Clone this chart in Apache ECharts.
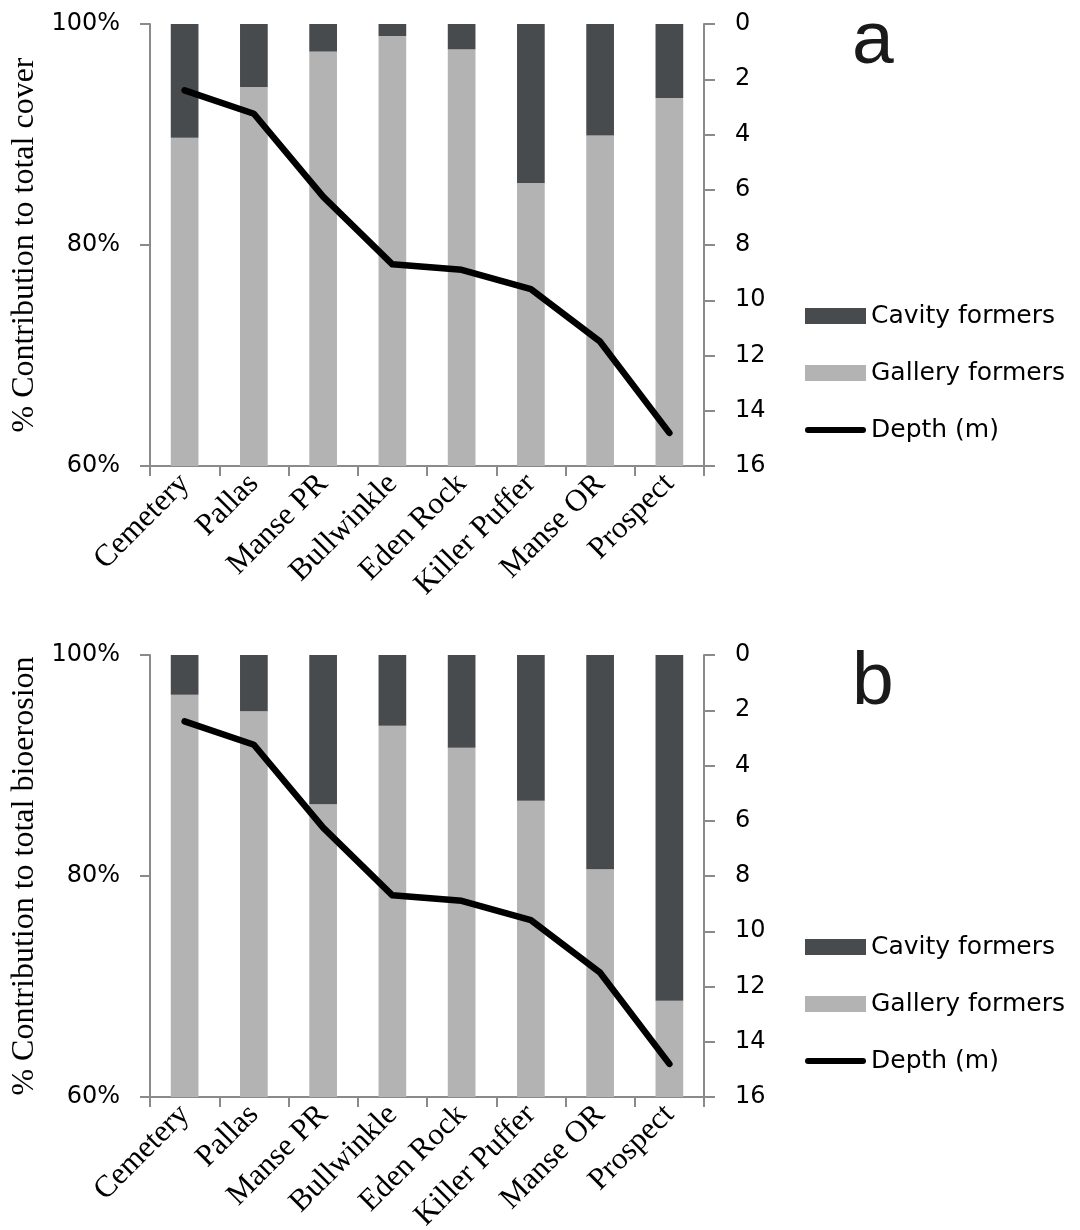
<!DOCTYPE html>
<html>
<head>
<meta charset="utf-8">
<script src="https://cdn.jsdelivr.net/npm/echarts@6/dist/echarts.min.js"></script>
<style>
  html, body { margin: 0; padding: 0; background: #fff; }
  #chart { width: 1080px; height: 1230px; }
</style>
</head>
<body>
<div id="chart"></div>
<script>
// Reef sites, ordered by depth
const sites = ['Cemetery', 'Pallas', 'Manse PR', 'Bullwinkle', 'Eden Rock', 'Killer Puffer', 'Manse OR', 'Prospect'];

// Site depth (m)
const depth = [2.4, 3.25, 6.25, 8.7, 8.9, 9.6, 11.5, 14.8];

// (a) % contribution to total cover
const galleryCover = [89.7, 94.3, 97.5, 98.9, 97.7, 85.6, 89.9, 93.3];
const cavityCover  = [10.3, 5.7, 2.5, 1.1, 2.3, 14.4, 10.1, 6.7];

// (b) % contribution to total bioerosion
const galleryBio = [96.4, 94.9, 86.5, 93.6, 91.6, 86.8, 80.6, 68.7];
const cavityBio  = [3.6, 5.1, 13.5, 6.4, 8.4, 13.2, 19.4, 31.3];

const panelLetters = ['a', 'b'];
const yNames = ['% Contribution to total cover', '% Contribution to total bioerosion'];

const AXIS = '#8a8a8a';
const DARK = '#474b4e';
const LIGHT = '#b3b3b3';
const SANS = 'DejaVu Sans';
const SERIF = 'Liberation Serif';

const panelTops = [24, 655];
const letterTops = [5, 646];
const plotH = 442;

// fixed plot boxes; labels are allowed to run to the page edge
const grids = panelTops.map(t => ({
  left: 150, right: 376, top: t, height: plotH,
  containLabel: false, outerBoundsMode: 'none'
}));

const xAxes = grids.map((g, i) => ({
  type: 'category',
  gridIndex: i,
  position: 'bottom',
  data: sites,
  boundaryGap: true,
  axisLine: { onZero: false, lineStyle: { color: AXIS, width: 2 } },
  axisTick: { show: true, length: 10, lineStyle: { color: AXIS, width: 2 } },
  axisLabel: {
    interval: 0, rotate: 45, margin: 13,
    fontFamily: SERIF, fontSize: 31, color: '#000'
  }
}));

const yAxes = [];
grids.forEach((g, i) => {
  yAxes.push({
    type: 'value', gridIndex: i, position: 'left',
    min: 60, max: 100, interval: 20,
    name: yNames[i], nameLocation: 'middle', nameGap: 106,
    nameTextStyle: { fontFamily: SERIF, fontSize: 32, color: '#000' },
    axisLine: { show: true, onZero: false, lineStyle: { color: AXIS, width: 2 } },
    axisTick: { show: true, length: 10, lineStyle: { color: AXIS, width: 2 } },
    axisLabel: { formatter: '{value}%', margin: 30, fontFamily: SANS, fontSize: 24, color: '#000' },
    splitLine: { show: false }
  });
  yAxes.push({
    type: 'value', gridIndex: i, position: 'right',
    min: 0, max: 16, interval: 2, inverse: true,
    axisLine: { show: true, onZero: false, lineStyle: { color: AXIS, width: 2 } },
    axisTick: { show: true, length: 11, lineStyle: { color: AXIS, width: 2 } },
    axisLabel: { margin: 31, align: 'left', fontFamily: SANS, fontSize: 24, color: '#000' },
    splitLine: { show: false }
  });
});

const panelData = [
  { gallery: galleryCover, cavity: cavityCover },
  { gallery: galleryBio, cavity: cavityBio }
];

const series = [];
panelData.forEach((p, i) => {
  series.push({
    name: 'Gallery formers', type: 'bar', stack: 'p' + i,
    xAxisIndex: i, yAxisIndex: 2 * i,
    barWidth: '40%', data: p.gallery,
    itemStyle: { color: LIGHT }
  });
  series.push({
    name: 'Cavity formers', type: 'bar', stack: 'p' + i,
    xAxisIndex: i, yAxisIndex: 2 * i,
    barWidth: '40%', data: p.cavity,
    itemStyle: { color: DARK }
  });
});
panelData.forEach((p, i) => {
  series.push({
    name: 'Depth (m)', type: 'line',
    xAxisIndex: i, yAxisIndex: 2 * i + 1,
    data: depth, symbol: 'none', z: 5,
    lineStyle: { color: '#000', width: 6.5, cap: 'round', join: 'round' },
    itemStyle: { color: '#000' }
  });
});

// legend key for the depth line: a thick round-capped stroke inside a 61x16 box
const depthKey = 'path://M0,0 M61,16 M3,5 L58,5 A3,3 0 0 1 58,11 L3,11 A3,3 0 0 1 3,5 Z';

const legends = panelTops.map(t => ({
  orient: 'vertical',
  left: 800, top: t + 272,
  itemWidth: 61, itemHeight: 16, itemGap: 27,
  selectedMode: false,
  textStyle: { fontFamily: SANS, fontSize: 25, lineHeight: 30, color: '#000' },
  data: [
    { name: 'Cavity formers', icon: 'rect' },
    { name: 'Gallery formers', icon: 'rect' },
    { name: 'Depth (m)', icon: depthKey }
  ]
}));

const letters = letterTops.map((t, i) => ({
  type: 'text',
  left: 852, top: t,
  style: { text: panelLetters[i], fontFamily: 'Liberation Sans', fontSize: 75, lineHeight: 75, fill: '#1a1a1a' }
}));

const chart = echarts.init(document.getElementById('chart'), null, { renderer: 'canvas' });
chart.setOption({
  backgroundColor: '#fff',
  animation: false,
  grid: grids,
  xAxis: xAxes,
  yAxis: yAxes,
  legend: legends,
  graphic: letters,
  series: series
});
</script>
</body>
</html>
